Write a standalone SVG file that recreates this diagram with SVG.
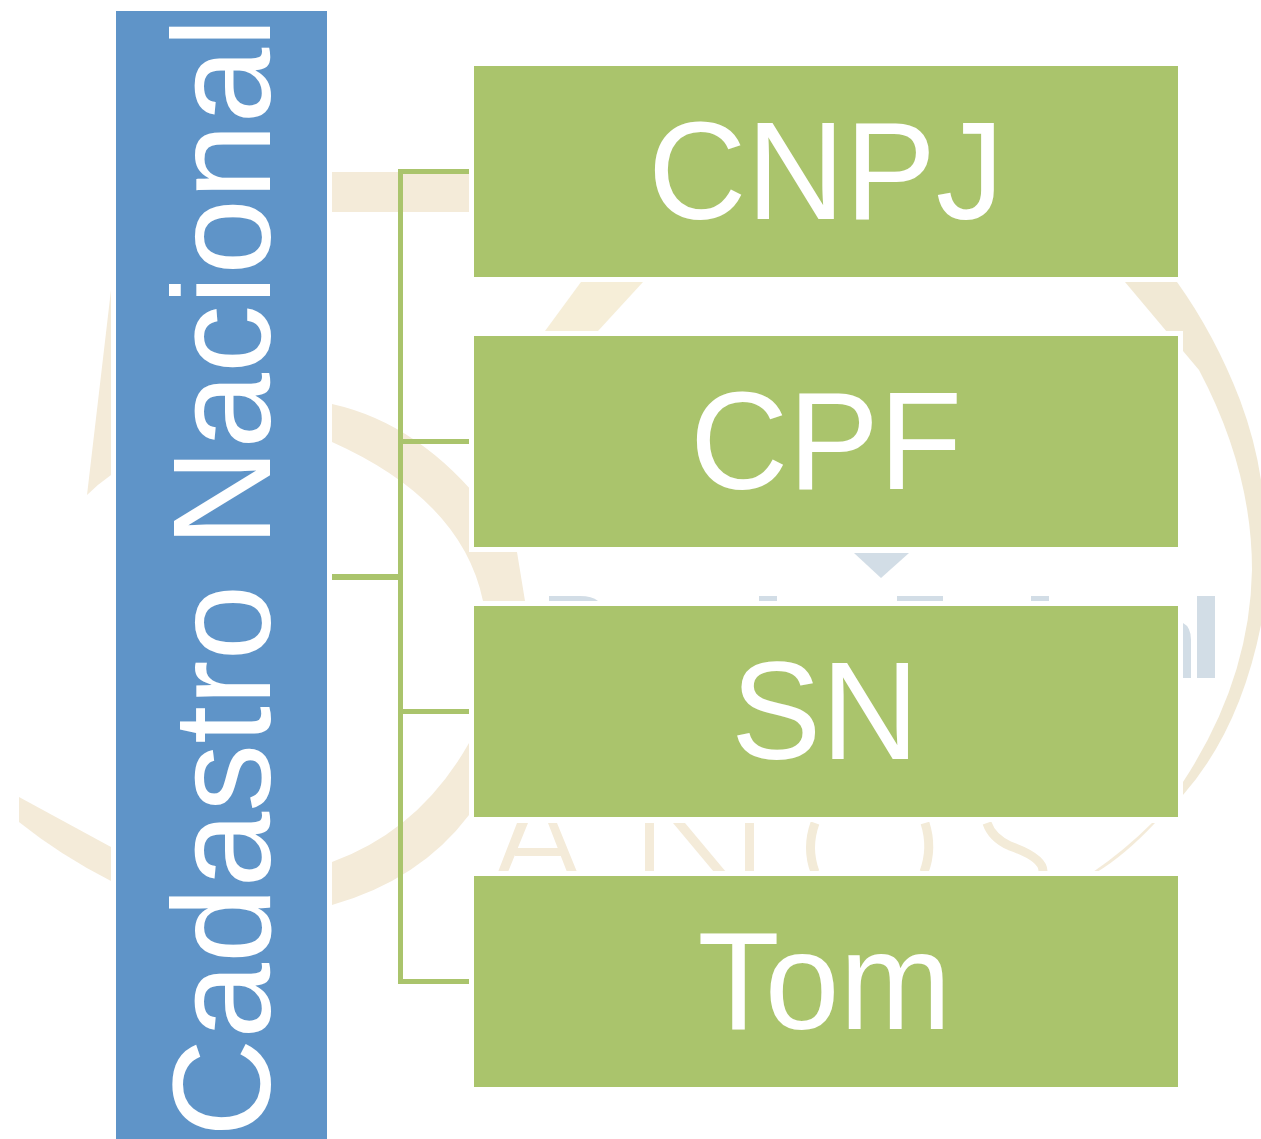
<svg xmlns="http://www.w3.org/2000/svg" width="1261" height="1139" viewBox="0 0 1261 1139">
<style>
.t{font-family:"Liberation Sans",Arial,sans-serif;font-size:140px;fill:#fff;text-anchor:middle}
.g{fill:#aac46c}
.b{fill:#f4ebd9}
.s{fill:#d2dde6}
.l{fill:none;stroke:#f3ebd8;stroke-width:9}
.c{fill:none;stroke:#aac46c;stroke-width:5}
.h{fill:#fff}
</style>
<rect width="1261" height="1139" fill="#fff"/>
<g id="watermark">
<rect class="b" x="332" y="172" width="137" height="40"/>
<path class="b" d="M111 290L87 495Q98 484 111 475Z"/>
<path class="b" d="M332 404Q440 428 517 552L525 601H483Q462 500 332 442Z"/>
<path class="b" d="M469 743Q420 830 332 862V905Q420 880 469 815Z"/>
<path class="b" d="M19 797L111 847V881Q60 855 19 822Z"/>
<path class="b" d="M581 282L545 331H598L643 282Z" style="fill:#f6eed8"/>
<path class="b" d="M1125 282L1199 370Q1252 470 1252 570Q1250 680 1183 782V795Q1240 730 1261 625V480Q1255 440 1240 400Q1215 335 1177 282Z" style="fill:#f1e9d5"/>
<path class="s" d="M854 553H909L881 578Z"/>
<path class="s" d="M549 596H580Q592 596 598 601H549Z"/>
<rect class="s" x="759" y="596" width="18" height="5"/>
<rect class="s" x="897" y="596" width="46" height="5"/>
<rect class="s" x="1031" y="596" width="18" height="5"/>
<rect class="s" x="1197" y="596" width="18" height="82"/>
<path class="s" d="M1183 623Q1191 627 1191 640V678H1183Z"/>
<path class="b" d="M517 823H528L508 872H498ZM548 823H557L577 872H567ZM515 848H561V856H515Z"/>
<path class="b" d="M645 823H654V872H645ZM745 823H754V872H745ZM673 823H685L726 872H714Z"/>
<path class="l" d="M815 823Q806 848 815 872M925 823Q933 848 924 872"/>
<path class="l" d="M987 823Q992 838 1010 846Q1044 858 1043 872"/>
<path class="b" d="M1152 823H1155Q1125 855 1097 872H1093Q1125 850 1152 823Z"/>
</g>
<g id="halos">
<rect class="h" x="111" y="6" width="221" height="1133"/>
<rect class="h" x="469" y="61" width="714" height="221"/>
<rect class="h" x="469" y="331" width="714" height="221"/>
<rect class="h" x="469" y="601" width="714" height="221"/>
<rect class="h" x="469" y="871" width="714" height="221"/>
</g>
<g id="connectors">
<path class="c" d="M400.500 169V984"/>
<path class="c" d="M398 171.500H469M398 441.500H469M398 711.500H469M398 981.500H469"/>
<path class="c" style="stroke-width:6" d="M332 577H400"/>
</g>
<g id="node-root">
<rect x="116" y="11" width="211" height="1128" fill="#5f94c8"/>
<text class="t" style="text-anchor:start" transform="translate(269.500 1137) rotate(-90) scale(.972 1)">Cadastro Nacional</text>
</g>
<g id="node-cnpj"><rect class="g" x="474" y="66" width="704" height="211"/><text class="t" x="826" y="219" textLength="356" lengthAdjust="spacingAndGlyphs">CNPJ</text></g>
<g id="node-cpf"><rect class="g" x="474" y="336" width="704" height="211"/><text class="t" x="826" y="489" textLength="272" lengthAdjust="spacingAndGlyphs">CPF</text></g>
<g id="node-sn"><rect class="g" x="474" y="606" width="704" height="211"/><text class="t" x="825" y="759" textLength="188" lengthAdjust="spacingAndGlyphs">SN</text></g>
<g id="node-tom"><rect class="g" x="474" y="876" width="704" height="211"/><text class="t" x="824.500" y="1029" textLength="254" lengthAdjust="spacingAndGlyphs">Tom</text></g>
</svg>
